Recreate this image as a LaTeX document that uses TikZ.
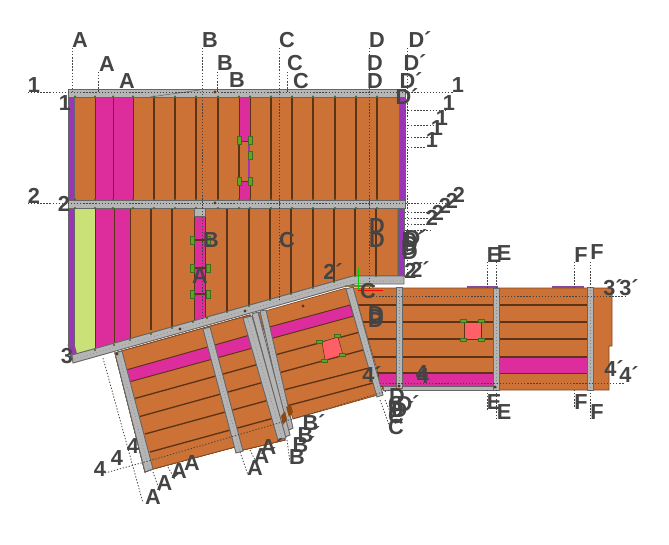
\documentclass[tikz,border=0pt]{standalone}
\usepackage{fontspec}
\setmainfont{Liberation Sans}
\definecolor{wood}{HTML}{CC7236}
\definecolor{plank}{HTML}{5C3317}
\definecolor{pinkb}{HTML}{DD2C9B}
\definecolor{purp}{HTML}{9A35B8}
\definecolor{lime}{HTML}{C9E176}
\definecolor{steel}{HTML}{B5B5B5}
\definecolor{edge}{HTML}{666666}
\definecolor{tabg}{HTML}{5FA51F}
\definecolor{bolt}{HTML}{3F6B22}
\definecolor{salmon}{HTML}{FF5F66}
\definecolor{ink}{HTML}{444444}
\tikzset{
  x=0.75pt,y=-0.75pt,
  woodf/.style={fill=wood,draw=plank!70!wood,line width=0.5pt},
  plankl/.style={draw=plank,line width=1pt},
  pinkf/.style={fill=pinkb,draw=plank,line width=0.7pt},
  purpf/.style={fill=purp,draw=edge,line width=0.5pt},
  beam/.style={fill=steel,draw=edge,line width=0.7pt},
  beamdots/.style={draw=edge!80!white,line width=0.5pt,dotted},
  tab/.style={fill=tabg,draw=bolt,line width=0.4pt},
  guide/.style={draw=ink,line width=0.6pt,dash pattern=on 1pt off 1.3pt},
  lab/.style={text=ink,font=\bfseries\fontsize{16.3}{16.3}\selectfont,inner sep=0pt},
}
\newcommand{\vtab}[2]{\fill[tab] (#1-2,#2-4) rectangle (#1+2,#2+4);}
\newcommand{\htab}[2]{\fill[tab] (#1-3,#2-1.6) rectangle (#1+3,#2+1.6);}
\begin{document}
\begin{tikzpicture}
\useasboundingbox (0,0) rectangle (669,544);
% ---- top bay
\fill[woodf] (74,97) rectangle (399,200);
\fill[pinkf] (95,97) rectangle (113,200);
\fill[pinkf] (113,97) rectangle (133,200);
\fill[pinkf] (239,97) rectangle (250,141);
\fill[pinkf] (239,181) rectangle (250,200);
\fill[purp] (248,141) rectangle (250,181);
\draw[plankl] (239,141) -- (239,181);
\foreach \x in {154,175,196,218,271,292,313,335,356,377} \draw[plankl] (\x,97) -- (\x,200);
\fill[purpf] (68,97) rectangle (74,200);
\fill[purpf] (399,97) rectangle (405,200);
\foreach \x/\y in {239/140,250/140,239/181,250/181,250/155} \vtab{\x}{\y}
% ---- lower-left rotated bay
\fill[woodf] (115,353) -- (250,315) -- (285,440) -- (243,450) -- (235,447) -- (153,469) -- (145,472) -- cycle;
\begin{scope}
\clip (115,353) -- (250,315) -- (285,440) -- (243,450) -- (235,447) -- (153,469) -- (145,472) -- cycle;
\fill[pinkf] (126,370) -- (250,335) -- (253,348) -- (129,382) -- cycle;
\draw[plankl] (133,399) -- (270,361);
\draw[plankl] (138,417) -- (275,379);
\draw[plankl] (145,434) -- (280,397);
\draw[plankl] (150,452) -- (285,415);
\end{scope}
% ---- lower-right rotated bay
\fill[woodf] (258,313) -- (346,288) -- (378,395) -- (293,419) -- cycle;
\begin{scope}
\clip (258,313) -- (346,288) -- (378,395) -- (293,419) -- cycle;
\fill[pinkf] (262,329) -- (350,305) -- (354,316) -- (266,340) -- cycle;
\draw[plankl] (260,359) -- (360,332);
\draw[plankl] (260,378) -- (363,350);
\draw[plankl] (260,396) -- (369,368);
\draw[plankl] (260,413) -- (373,383);
\end{scope}
\fill[fill=salmon,draw=plank,line width=0.4pt] (322,342) -- (338,337) -- (343,355) -- (325,360) -- cycle;
\foreach \x/\y in {319/342,337/336,342/355,324/361} \fill[tab] (\x-3,\y-1.6) rectangle (\x+3,\y+1.6);
% ---- right wing
\fill[woodf] (353,288) -- (612,288) -- (612,346) -- (609,346) -- (609,390) -- (383,390) -- cycle;
\foreach \x/\y in {356/305,361/322,366/339,371/357,375/373} \draw[plankl] (\x,\y) -- (587,\y);
\fill[pinkf] (378,373) rectangle (493,386);
\fill[pinkf] (499,357) rectangle (587,373);
\fill[purp!60!edge] (467,286) rectangle (498,288);
\fill[purp!60!edge] (552,286) rectangle (584,288);
\fill[fill=salmon,draw=plank,line width=0.4pt] (464,322) rectangle (481,339);
\foreach \x/\y in {463/321,481/321,463/340,481/340} \htab{\x}{\y}
% ---- bay between the two beams
\fill[woodf] (74,208) -- (398,208) -- (398,276) -- (353,276) -- (72,355) -- cycle;
\begin{scope}
\clip (74,208) -- (398,208) -- (398,276) -- (353,276) -- (72,355) -- cycle;
\fill[fill=lime,draw=plank,line width=0.6pt] (74,208) rectangle (95,360);
\fill[pinkf] (95,208) rectangle (114,360);
\fill[pinkf] (114,208) rectangle (130,360);
\foreach \x in {151,172,227,249,270,291,313,334,355,376} \draw[plankl] (\x,208) -- (\x,330);
\fill[pinkf] (194,208) rectangle (205,330);
\foreach \y in {240,268,294} \draw[plankl] (194,\y) -- (205,\y);
\end{scope}
\fill[steel,draw=edge,line width=0.4pt] (194,208) rectangle (205,216);
\foreach \x/\y in {192/240,208/240,192/268,208/268,192/294,208/294} \vtab{\x}{\y}
\fill[purpf] (68,208) -- (74,208) -- (74,345) -- (68,345) -- cycle;
\fill[purpf] (68,345) -- (74,344) -- (77,355) -- (71,357) -- cycle;
\fill[purpf] (398,208) rectangle (404,276);
% ---- beams
\fill[beam] (115,353) -- (122,351) -- (153,469) -- (145,472) -- cycle;
\fill[beam] (203,329) -- (210,327) -- (243,451) -- (236,453) -- cycle;
\fill[beam] (260,311) -- (266,310) -- (293,428) -- (287,431) -- cycle;
\fill[beam] (252,314) -- (258,312) -- (290,435) -- (285,437) -- cycle;
\fill[beam] (243,318) -- (252,316) -- (286,438) -- (278,440) -- cycle;
\fill[beam] (346,289) -- (353,287) -- (383,395) -- (377,397) -- cycle;
\fill[beam] (383,386) -- (495,386) -- (495,390) -- (383,390) -- cycle;
\fill[beam] (396,287) rectangle (402,388);
\fill[beam] (493,288) rectangle (499,390);
\fill[beam] (587,287) rectangle (593,390);
\draw[beamdots] (399,290) -- (399,386);
\draw[beamdots] (496,290) -- (496,388);
\draw[beamdots] (590,290) -- (590,388);
\draw[beamdots] (119,355) -- (149,469);
\draw[beamdots] (207,330) -- (240,451);
\draw[beamdots] (247.5,318) -- (282,438);
\draw[beamdots] (263,312) -- (290,428);
\draw[beamdots] (350,290) -- (380,395);
\fill[beam] (68,89) rectangle (405,97);
\fill[beam] (68,200) rectangle (405,208);
\fill[beam] (72,355) -- (353,276) -- (404,276) -- (404,284) -- (355,284) -- (343,287) -- (73,363) -- cycle;
\draw[beamdots] (74,359) -- (350,281) -- (402,281);
\draw[draw=edge,line width=0.4pt] (150,97) -- (200,90);
% bolts
\foreach \x in {75,95,113,133,154,175,196,218,239,250,271,292,313,335,356,377}
  {\fill[bolt] (\x,96.5) circle (1.2); \fill[bolt] (\x,208) circle (1.2);\fill[bolt] (\x,199.5) circle (1.2);}
\foreach \x/\y in {95/350,114/345,130/340,151/334,172/328,193/322,207/318,227/312,249/306,270/300,291/294,313/288,334/282,355/276,376/276}
  \fill[bolt] (\x,\y) circle (1.2);
\foreach \x/\y in {215/92,215/203,180/329,245/311,353/286,399/386,495/387,303/306,117/354}
  \fill[plank] (\x,\y) circle (1.6);
% axes and small parts
\draw[draw=plank!60!lime,line width=0.9pt] (345,286) -- (375,286);
\draw[draw=green!80!black,line width=1pt] (358.7,268) -- (358.7,290);
\draw[draw=red,line width=1.1pt] (358,290.7) -- (383,290.7);
\fill[plank!70!orange] (281,416) -- (285,411) -- (287,419) -- (283,425) -- cycle;
\fill[plank!70!orange] (286,407) -- (291,405) -- (293,412) -- (289,417) -- cycle;
% ---- dotted guides
\draw[guide] (28,92) -- (453,92);
\draw[guide] (28,203) -- (450,203);
\foreach \y/\e in {110/445,125/436,137/430,147/425,212/445,218/440,224/436,230/430} \draw[guide] (405,\y) -- (\e,\y);
\draw[guide] (72,48) -- (72,92);
\draw[guide] (98,72) -- (98,92);
\draw[guide] (202,48) -- (202,320);
\draw[guide] (217,72) -- (217,92);
\draw[guide] (279,48) -- (279,300);
\draw[guide] (287,72) -- (287,92);
\draw[guide] (369,48) -- (369,290);
\draw[guide] (407.5,48) -- (407.5,276);
\draw[guide] (370,296) -- (625,296);
\draw[guide] (380,383) -- (625,383);
\foreach \x/\a/\b in {487/262/288,496.5/262/288,574/262/288,590/262/288,487/390/410,496.5/390/418,574/390/408,590/390/418}
  \draw[guide] (\x,\a) -- (\x,\b);
\draw[guide] (103,358) -- (143,503);
\draw[guide] (153,472) -- (160,492);
\draw[guide] (168,467) -- (175,480);
\draw[guide] (240,452) -- (248,475);
\draw[guide] (250,450) -- (255,460);
\draw[guide] (105,473) -- (152,460) -- (313,413) -- (390,390);
\draw[guide] (380,400) -- (392,433);
\draw[guide] (385,400) -- (396,425);
\draw[guide] (287,440) -- (290,462);
% ---- labels
\foreach \t/\x/\y [count=\i] in {
 A/80/40,A/107/64,A/127/81,B/210/40,B/225/63,B/237/80,C/287/40,C/295/63,C/301/81,
 D/377/40,D/375/63,D/375/81,D´/420/40,D´/415/63,D´/411/81,D´/407/97,
 1/34/85,1/65/103,1/458/85,1/449/103,1/442/118,1/437/128,1/432/140,
 2/34/196,2/64/204,2/459/195,2/452/201,2/445/206,2/438/213,2/432/218,
 B/211/240,A/200/276,C/287/240,D/377/226,D/377/240,
 D´/416/238,D´/413/240,D/410/244,D/409/248,D/410/252,
 2´/420/270,2´/414/271,2´/333/272,3/67/356,
 C/368/291,D/376/314,D/376/317,D/376/320,
 4´/372/375,4/422/373,4/423/376,
 D/397/396,C/396/404,D/396/410,C/396/416,C/396/427,D´/408/404,D´/403/410,
 E/494/255,E/504/253,E/494/402,E/504/412,F/581/255,F/597/252,F/581/402,F/597/412,
 3´/613/288,3´/629/288,4´/614/369,4´/629/375,
 4/100/469,4/117/458,4/133/446,
 A/153/497,A´/168/483,A/179/471,A/192/463,A/255/468,A´/265/456,A´/272/447,
 B/297/457,B´/304/445,B´/309/435,B´/314/423
 }{\node[lab] (t\i) at (\x,\y) {\t};}
\end{tikzpicture}
\end{document}
